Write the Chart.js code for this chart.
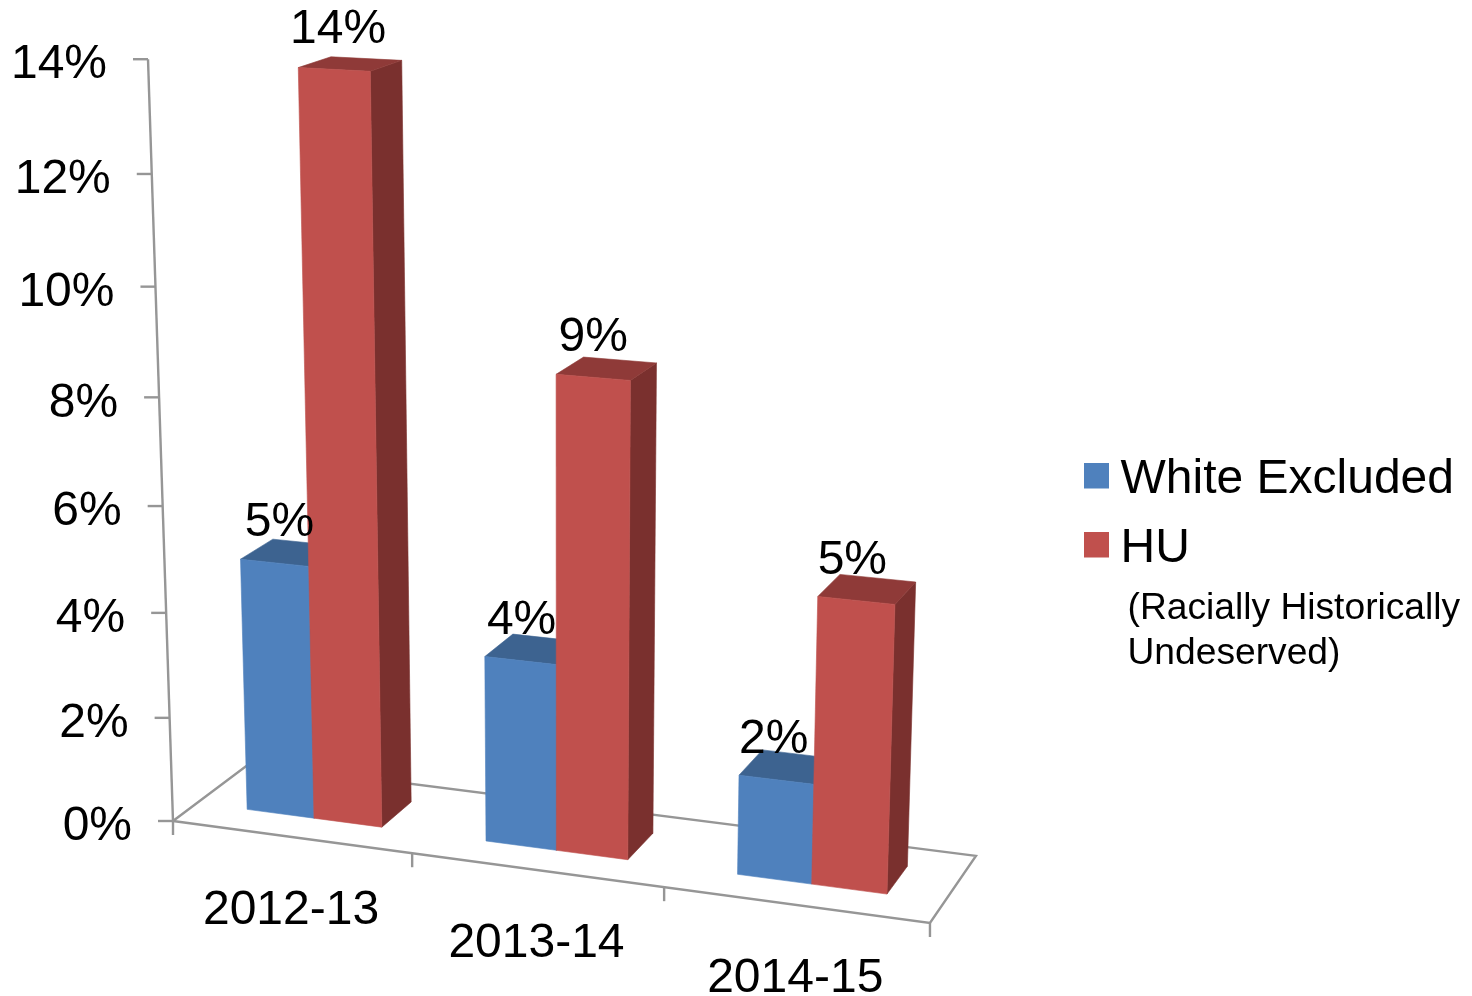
<!DOCTYPE html>
<html><head><meta charset="utf-8">
<style>html,body{margin:0;padding:0;background:#fff}canvas{display:block}</style>
<script src="https://cdn.jsdelivr.net/npm/chart.js@4"></script>
</head><body><canvas id="c" width="1472" height="996"></canvas>
<script>
const categories = ['2012-13','2013-14','2014-15'];
const whiteExcluded = [4.83, 3.5, 1.85];
const hu = [13.83, 8.76, 5.25];
const whiteLabels = ['5%','4%','2%'];
const huLabels = ['14%','9%','5%'];
const noteLines = ['(Racially Historically','Undeserved)'];

// camera: vanishing points and the screen images of the plot box edges
const O=[173,821], VX=[-9000,-415], VY=[563,12705], VZ=[1870,-450];
const A=-0.07623, B=-0.06024, C=0.0475;
const Z0=0.3066, Z1=0.728;
function proj(X,Y,Z){
  const a=A*X,b=B*Y,c=C*Z,w=a+b+c+1;
  return [(a*VX[0]+b*VY[0]+c*VZ[0]+O[0])/w,(a*VX[1]+b*VY[1]+c*VZ[1]+O[1])/w];
}
const FONT='"Liberation Sans", Arial, sans-serif';
const GRAY='#969696';
const SHADES={ '#4F81BD':{side:'#345A86',top:'#3D6390'}, '#C0504D':{side:'#7A302E',top:'#8F3A38'} };

function poly(ctx,pts,col){
  ctx.beginPath();pts.forEach((p,i)=>i?ctx.lineTo(p[0],p[1]):ctx.moveTo(p[0],p[1]));ctx.closePath();
  ctx.fillStyle=col;ctx.strokeStyle=col;ctx.lineWidth=0.6;ctx.fill();ctx.stroke();
}
function line(ctx,a,b){ctx.beginPath();ctx.moveTo(a[0],a[1]);ctx.lineTo(b[0],b[1]);ctx.stroke();}

const threeD={
  id:'threeD',
  beforeDatasetsDraw(chart){
    const ctx=chart.ctx,area=chart.chartArea,xs=chart.scales.x,ys=chart.scales.y;
    const fx=p=>(p-area.left)/(area.right-area.left), fy=p=>(area.bottom-p)/(area.bottom-area.top);
    ctx.save();
    // floor and axis lines
    ctx.strokeStyle=GRAY;ctx.lineWidth=2.4;ctx.lineJoin='miter';
    ctx.beginPath();[[0,0],[1,0],[1,1],[0,1]].forEach((q,i)=>{const p=proj(q[0],0,q[1]);i?ctx.lineTo(p[0],p[1]):ctx.moveTo(p[0],p[1]);});ctx.closePath();ctx.stroke();
    line(ctx,proj(0,0,0),proj(0,1,0));
    // y ticks and labels
    ctx.fillStyle='#000';ctx.font='48px '+FONT;ctx.textAlign='right';ctx.textBaseline='middle';
    ys.ticks.forEach(t=>{
      const p=proj(0,fy(ys.getPixelForValue(t.value)),0);
      ctx.strokeStyle=GRAY;line(ctx,[p[0]-15,p[1]],p);
      ctx.fillStyle='#000';ctx.fillText(t.value+'%',p[0]-41,p[1]+6);
    });
    // x ticks and labels
    categories.forEach((lab,i)=>{
      const half=(xs.getPixelForValue(i+1)-xs.getPixelForValue(i))/2;
      const e=fx(xs.getPixelForValue(i)-half);
      const p=proj(e,0,0);ctx.strokeStyle=GRAY;line(ctx,p,[p[0],p[1]+14]);
      if(i===categories.length-1){const r=proj(1,0,0);line(ctx,r,[r[0],r[1]+14]);}
      const m=proj(fx(xs.getPixelForValue(i)),0,0);
      ctx.fillStyle='#000';ctx.textAlign='center';ctx.fillText(chart.data.labels[i],m[0],m[1]+74);
    });
    // bars, back to front
    const labelPos=[];
    categories.forEach((_,j)=>{
      chart.data.datasets.forEach((ds,d)=>{
        const el=chart.getDatasetMeta(d).data[j];
        const x0=fx(el.x-el.width/2),x1=fx(el.x+el.width/2),y0=fy(el.base),y1=fy(el.y);
        const s=SHADES[ds.backgroundColor];
        poly(ctx,[proj(x1,y0,Z0),proj(x1,y1,Z0),proj(x1,y1,Z1),proj(x1,y0,Z1)],s.side);
        poly(ctx,[proj(x0,y1,Z0),proj(x1,y1,Z0),proj(x1,y1,Z1),proj(x0,y1,Z1)],s.top);
        poly(ctx,[proj(x0,y0,Z0),proj(x1,y0,Z0),proj(x1,y1,Z0),proj(x0,y1,Z0)],ds.backgroundColor);
        const c=proj(fx(el.x),y1,Z0);
        labelPos.push([ds.pointLabels[j],c[0]+0.015*(600-c[0]),c[1]-40]);
      });
    });
    ctx.fillStyle='#000';ctx.font='48px '+FONT;ctx.textAlign='center';ctx.textBaseline='middle';
    labelPos.forEach(l=>ctx.fillText(l[0],l[1],l[2]));
    // legend
    ctx.textAlign='left';
    chart.data.datasets.forEach((ds,d)=>{
      const y=476+d*69;
      ctx.fillStyle=ds.backgroundColor;ctx.fillRect(1084,y-13,25,25.5);
      ctx.fillStyle='#000';ctx.fillText(ds.label,1120.5,y+4);
    });
    ctx.font='37.2px '+FONT;
    noteLines.forEach((t,i)=>ctx.fillText(t,1127.5,609+i*45));
    ctx.restore();
    return false;
  }
};

new Chart(document.getElementById('c'),{
  type:'bar',
  data:{labels:categories,datasets:[
    {label:'White Excluded',data:whiteExcluded,backgroundColor:'#4F81BD',pointLabels:whiteLabels,categoryPercentage:0.57,barPercentage:1},
    {label:'HU',data:hu,backgroundColor:'#C0504D',pointLabels:huLabels,categoryPercentage:0.57,barPercentage:1}
  ]},
  options:{
    responsive:false,animation:false,devicePixelRatio:1,
    layout:{padding:0},
    plugins:{legend:{display:false},tooltip:{enabled:false},title:{display:false}},
    scales:{
      x:{display:false},
      y:{display:false,min:0,max:14,ticks:{stepSize:2}}
    }
  },
  plugins:[threeD]
});
</script></body></html>
